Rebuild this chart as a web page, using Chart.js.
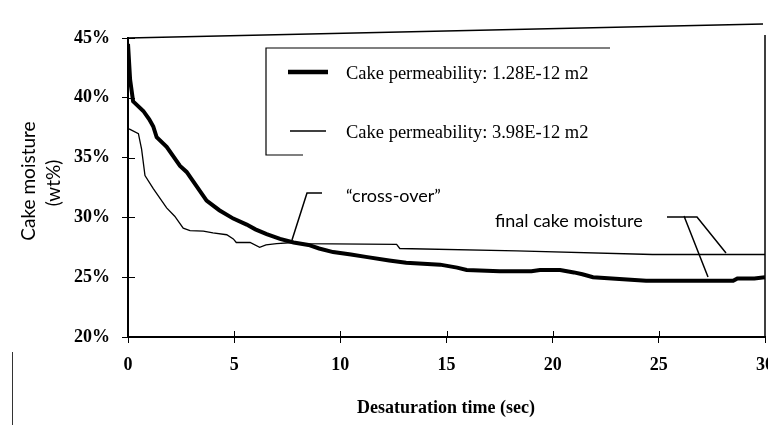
<!DOCTYPE html>
<html>
<head>
<meta charset="utf-8">
<script src="https://cdn.jsdelivr.net/npm/chart.js@4"></script>
<style>
  html, body { margin: 0; padding: 0; background: #fff; }
  #wrap { position: relative; width: 768px; height: 425px; overflow: hidden; }
  #scan-mark { position: absolute; left: 12px; top: 352px; width: 1px; height: 73px; background: #333; }
</style>
</head>
<body>
<div id="wrap">
  <canvas id="chart" width="768" height="425"></canvas>
  <div id="scan-mark"></div>
</div>
<script>
// desaturation time (sec) and cake moisture (wt%)
const timeLowPerm = [0, 0.1, 0.24, 0.72, 1.0, 1.19, 1.35, 1.82, 2.45, 2.76, 3.39, 3.7, 4.3, 4.96, 5.59, 6.0, 6.53, 7.16, 7.8, 8.5, 9.0, 9.66, 10.5, 11.2, 12.3, 13.1, 14.7, 15.5, 15.95, 17.5, 19.0, 19.4, 20.35, 21.0, 21.4, 21.9, 23.5, 24.4, 28.5, 28.7, 29.5, 30]
const moistLowPerm = [44.5, 41.5, 39.7, 38.9, 38.2, 37.6, 36.7, 35.9, 34.3, 33.8, 32.2, 31.4, 30.6, 29.9, 29.4, 29.0, 28.6, 28.2, 27.9, 27.7, 27.4, 27.1, 26.9, 26.7, 26.4, 26.2, 26.05, 25.8, 25.6, 25.5, 25.5, 25.6, 25.6, 25.4, 25.25, 25.0, 24.8, 24.7, 24.7, 24.9, 24.9, 25.0]
const timeHighPerm = [0.05, 0.49, 0.64, 0.8, 1.19, 1.82, 2.2, 2.6, 2.92, 3.55, 4.0, 4.65, 4.96, 5.1, 5.75, 6.2, 6.5, 7.0, 7.8, 8.1, 12.65, 12.8, 18.3, 24.7, 30]
const moistHighPerm = [37.4, 37.0, 35.7, 33.5, 32.4, 30.8, 30.1, 29.1, 28.9, 28.85, 28.7, 28.55, 28.2, 27.9, 27.9, 27.5, 27.7, 27.8, 27.9, 27.8, 27.75, 27.4, 27.2, 26.9, 26.9]
const seriesLabels = ['Cake permeability: 1.28E-12 m2', 'Cake permeability: 3.98E-12 m2']
const xTickStep = 5
const yTickStep = 5

const SERIF = '"Liberation Serif", "Times New Roman", serif'
const SANS = 'Lato, "Open Sans", sans-serif'

const toPoints = (xs, ys) => xs.map((x, i) => ({ x, y: ys[i] }))

// frame, crossing ticks, legend box, annotations and axis titles
const decor = {
  id: 'decor',
  afterDraw (chart) {
    const ctx = chart.ctx
    const { left, right, top, bottom } = chart.chartArea
    const xs = chart.scales.x
    const ys = chart.scales.y
    ctx.save()
    ctx.strokeStyle = '#000'
    ctx.fillStyle = '#000'

    // plot frame (top edge slightly skewed as in the scan)
    ctx.lineWidth = 1.5
    ctx.beginPath()
    ctx.moveTo(left, top)
    ctx.lineTo(right - 2, top - 14)
    ctx.moveTo(right, top - 3)
    ctx.lineTo(right, bottom)
    ctx.stroke()

    // inner halves of the tick marks
    ctx.lineWidth = 1
    ctx.beginPath()
    for (let v = ys.min; v <= ys.max; v += yTickStep) {
      const py = Math.round(ys.getPixelForValue(v)) + 0.5
      ctx.moveTo(left, py)
      ctx.lineTo(left + 7, py)
    }
    for (let v = xs.min + xTickStep; v < xs.max; v += xTickStep) {
      const px = Math.round(xs.getPixelForValue(v)) + 0.5
      ctx.moveTo(px, bottom)
      ctx.lineTo(px, bottom - 6)
    }
    ctx.stroke()

    // legend box (partly drawn, like the original)
    ctx.lineWidth = 1.2
    ctx.beginPath()
    ctx.moveTo(610, 48)
    ctx.lineTo(266, 48)
    ctx.lineTo(266, 155)
    ctx.lineTo(303, 155)
    ctx.stroke()
    ctx.lineWidth = 4.5
    ctx.beginPath()
    ctx.moveTo(288, 72)
    ctx.lineTo(328, 72)
    ctx.stroke()
    ctx.lineWidth = 1.3
    ctx.beginPath()
    ctx.moveTo(290, 131)
    ctx.lineTo(326, 131)
    ctx.stroke()
    ctx.font = '18.5px ' + SERIF
    ctx.textBaseline = 'middle'
    ctx.textAlign = 'left'
    ctx.fillText(seriesLabels[0], 346, 74)
    ctx.fillText(seriesLabels[1], 346, 133)

    // "cross-over" label
    ctx.lineWidth = 1.5
    ctx.beginPath()
    ctx.moveTo(292, 240)
    ctx.lineTo(307, 193)
    ctx.lineTo(322, 193)
    ctx.stroke()
    ctx.font = '18px ' + SANS
    ctx.fillText('\u201ccross-over\u201d', 346, 196)

    // final cake moisture label
    ctx.beginPath()
    ctx.moveTo(667, 217)
    ctx.lineTo(697, 217)
    ctx.lineTo(726, 253)
    ctx.moveTo(684, 216)
    ctx.lineTo(708, 277)
    ctx.stroke()
    ctx.fillText('final cake moisture', 495, 221)

    // axis titles
    ctx.textAlign = 'center'
    ctx.font = 'bold 18px ' + SERIF
    ctx.fillText('Desaturation time (sec)', 446, 408)
    ctx.save()
    ctx.translate(29, 181)
    ctx.rotate(-Math.PI / 2)
    ctx.font = '19px ' + SANS
    ctx.fillText('Cake moisture', 0, 0)
    ctx.restore()
    ctx.save()
    ctx.translate(54, 183)
    ctx.rotate(-Math.PI / 2)
    ctx.font = '19px ' + SANS
    ctx.fillText('(wt%)', 0, 0)
    ctx.restore()

    ctx.restore()
  }
}

new Chart(document.getElementById('chart'), {
  type: 'line',
  data: {
    datasets: [
      {
        label: seriesLabels[0],
        data: toPoints(timeLowPerm, moistLowPerm),
        borderColor: '#000',
        borderWidth: 4,
        pointRadius: 0,
        tension: 0
      },
      {
        label: seriesLabels[1],
        data: toPoints(timeHighPerm, moistHighPerm),
        borderColor: '#000',
        borderWidth: 1.3,
        pointRadius: 0,
        tension: 0
      }
    ]
  },
  options: {
    responsive: false,
    animation: false,
    layout: { padding: { left: 0, top: 38, right: 3, bottom: 0 } },
    plugins: {
      legend: { display: false },
      tooltip: { enabled: false }
    },
    scales: {
      x: {
        type: 'linear',
        min: 0,
        max: 30,
        ticks: {
          stepSize: xTickStep,
          color: '#000',
          font: { family: SERIF, size: 18, weight: 'bold' },
          padding: 12,
          maxRotation: 0
        },
        grid: { drawOnChartArea: false, tickLength: 6, color: '#000' },
        border: { color: '#000', width: 2 },
        afterFit: (scale) => {
          scale.height = 88
          scale.paddingLeft = 0
          scale.paddingRight = 0
        }
      },
      y: {
        min: 20,
        max: 45,
        ticks: {
          stepSize: yTickStep,
          color: '#000',
          font: { family: SERIF, size: 18, weight: 'bold' },
          padding: 12,
          callback: (v) => v + '%'
        },
        grid: { drawOnChartArea: false, tickLength: 6, color: '#000' },
        border: { color: '#000', width: 2 },
        afterFit: (scale) => {
          scale.width = 128
          scale.paddingTop = 0
          scale.paddingBottom = 0
        }
      }
    }
  },
  plugins: [decor]
})
</script>
</body>
</html>
